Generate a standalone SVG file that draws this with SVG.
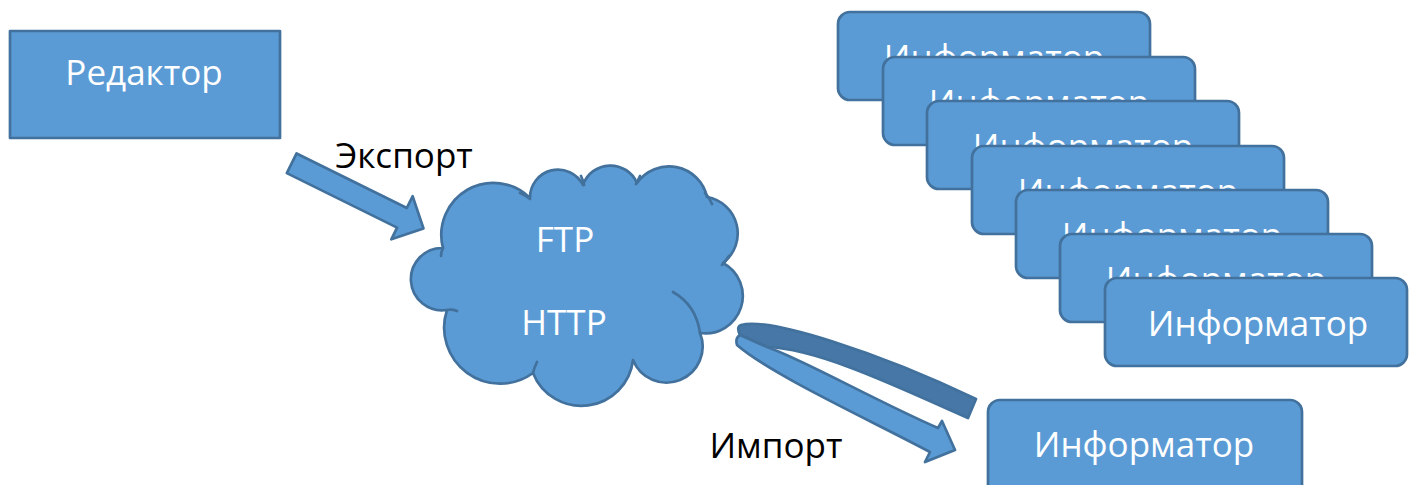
<svg xmlns="http://www.w3.org/2000/svg" width="1409" height="485" viewBox="0 0 1409 485">
<style>
.sh{fill:#5B9BD5;stroke:#41719C;stroke-width:2.7;stroke-linejoin:round}
.in{fill:none;stroke:#41719C;stroke-width:2.7;stroke-linecap:round}
.wt{fill:#FFFFFF;font-family:"Open Sans","Noto Sans",sans-serif;font-size:35px;text-anchor:middle}
.bk{fill:#000000;font-family:"Open Sans","Noto Sans",sans-serif;font-size:35px;text-anchor:middle}
</style>
<rect width="1409" height="485" fill="#FFFFFF"/>
<g id="editor">
<rect class="sh" x="10" y="31" width="270" height="107"/>
<text class="wt" x="144" y="85">Редактор</text>
</g>
<g id="informers">
<g id="inf1"><rect class="sh" x="838" y="12" width="312" height="88" rx="12"/><text class="wt" x="994" y="70">Информатор</text></g>
<g id="inf2"><rect class="sh" x="883" y="57" width="312" height="88" rx="12"/><text class="wt" x="1039" y="115">Информатор</text></g>
<g id="inf3"><rect class="sh" x="927" y="101" width="312" height="88" rx="12"/><text class="wt" x="1083" y="159">Информатор</text></g>
<g id="inf4"><rect class="sh" x="972" y="146" width="312" height="88" rx="12"/><text class="wt" x="1128" y="204">Информатор</text></g>
<g id="inf5"><rect class="sh" x="1016" y="190" width="312" height="88" rx="12"/><text class="wt" x="1172" y="248">Информатор</text></g>
<g id="inf6"><rect class="sh" x="1060" y="234" width="312" height="88" rx="12"/><text class="wt" x="1216" y="292">Информатор</text></g>
<g id="inf7"><rect class="sh" x="1105" y="278" width="302" height="88" rx="12"/><text class="wt" x="1258" y="336">Информатор</text></g>
</g>
<g id="informer-single">
<rect class="sh" x="988" y="400" width="314" height="100" rx="12"/>
<text class="wt" x="1144" y="457">Информатор</text>
</g>
<g id="cloud">
<path class="sh" d="M443,248 A52,52 0 0 1 530,198 A28,28 0 0 1 583,185 A29,29 0 0 1 637,183 A39,39 0 0 1 707,197 A37,37 0 0 1 723,263 A37.4,37.4 0 0 1 700,333 A36,36 0 0 1 633,360 A52,52 0 0 1 533,373 A56,56 0 0 1 447,310 A31.2,31.2 0 1 1 443,248 Z"/>
<path class="in" d="M520,193 Q525,195 530,199 M581,176 Q583,180 584,185 M640,176 Q638,180 636,184 M705,193 Q709,197 712,204 M722,265 Q726,261 729,256 M673,292 Q696,305 700,333 M533,373 Q534,368 537,362 M447,310 Q452,309 457,311 M443,248 Q441,252 441,256"/>
<text class="wt" x="565" y="252">FTP</text>
<text class="wt" x="564" y="335">HTTP</text>
</g>
<g id="connectors">
<g id="export-arrow">
<polygon class="sh" transform="translate(291.7,163.3) rotate(26.3)" points="0,-11 123,-11 123,-24 147,0 123,24 123,11 0,11"/>
<text class="bk" x="404" y="168">Экспорт</text>
</g>
<g id="import-arrow">
<path class="sh" style="fill:#4777A6" d="M741,325 C770,317 880,353 976,399 L968,418 C900,388 820,349 767,347 L740,335 Q736,327 741,325 Z"/>
<path class="sh" d="M740,335 L767,347 C800,358 878,402 938,428 L942,421 L955,450 L925,462 L930,452 C870,420 770,374 737,345 Q735,338 740,335 Z"/>
<text class="bk" x="776" y="458">Импорт</text>
</g>
</g>
</svg>
